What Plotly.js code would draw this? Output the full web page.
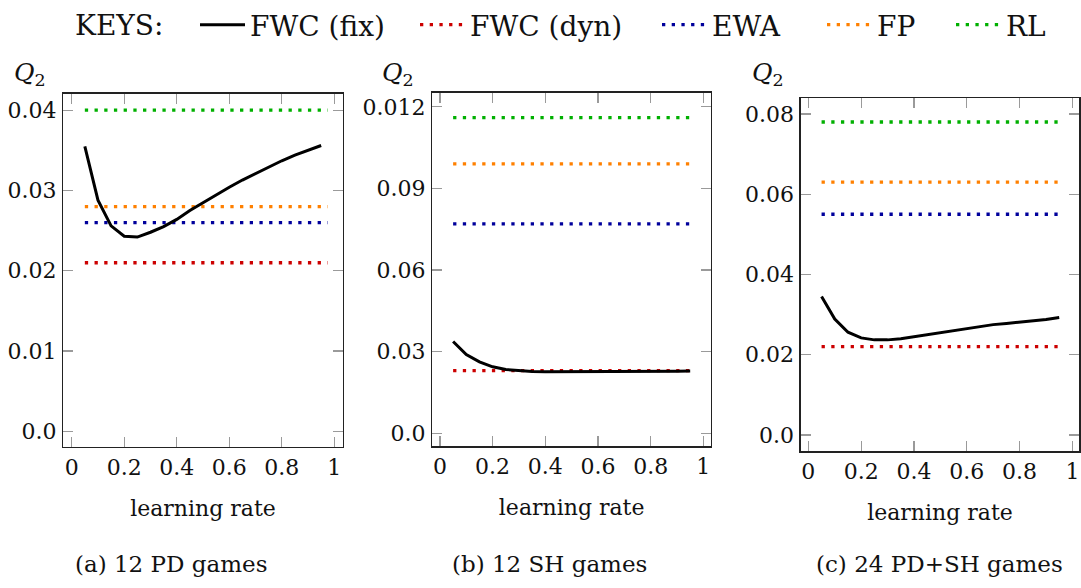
<!DOCTYPE html>
<html>
<head>
<meta charset="utf-8">
<script src="https://cdn.plot.ly/plotly-3.0.1.min.js"></script>
<style>html,body{margin:0;padding:0;background:#fff;}#chart{width:1081px;height:588px;}</style>
</head>
<body>
<div id="chart"></div>
<script>
// ---- data ----
const seriesNames = ["FWC (fix)", "FWC (dyn)", "EWA", "FP", "RL"];
const panelCaptions = ["(a) 12 PD games", "(b) 12 SH games", "(c) 24 PD+SH games"];
const learningRate = [0.05,0.10,0.15,0.20,0.25,0.30,0.35,0.40,0.45,0.50,0.55,0.60,0.65,0.70,0.75,0.80,0.85,0.90,0.95];

const fwcFixPD = [0.0355,0.0288,0.0256,0.0243,0.0242,0.0248,0.0255,0.0264,0.0275,0.0285,0.0294,0.0304,0.0313,0.0321,0.0330,0.0337,0.0344,0.0350,0.0356];
const fwcFixSH = [0.0337,0.0289,0.0262,0.0244,0.0234,0.0230,0.0227,0.0226,0.0226,0.0226,0.0226,0.0227,0.0227,0.0227,0.0228,0.0228,0.0228,0.0228,0.0229];
const fwcFixMix = [0.0345,0.0289,0.0256,0.0242,0.0237,0.0237,0.0240,0.0245,0.0250,0.0255,0.0260,0.0266,0.0270,0.0275,0.0278,0.0281,0.0285,0.0288,0.0293];

// constant baselines: [FWC (dyn), EWA, FP, RL]
const baselinePD = [0.021, 0.026, 0.028, 0.040];
const baselineSH = [0.023, 0.077, 0.099, 0.116];
const baselineMix = [0.022, 0.055, 0.063, 0.078];
const baselineXPD = [0.05, 0.975];
const baselineXSH = [0.05, 0.95];
const baselineXMix = [0.05, 0.95];

const xTickVals = [0, 0.2, 0.4, 0.6, 0.8, 1];
const xTickText = ["0", "0.2", "0.4", "0.6", "0.8", "1"];
const yTickValsPD = [0, 0.01, 0.02, 0.03, 0.04];
const yTickTextPD = ["0.0", "0.01", "0.02", "0.03", "0.04"];
const yTickValsSH = [0, 0.03, 0.06, 0.09, 0.12];
const yTickTextSH = ["0.0", "0.03", "0.06", "0.09", "0.012"];
const yTickValsMix = [0, 0.02, 0.04, 0.06, 0.08];
const yTickTextMix = ["0.0", "0.02", "0.04", "0.06", "0.08"];

// ---- styling ----
const W = 1081, H = 588;
const px = x => x / W;
const py = y => 1 - y / H;
const FONT = "DejaVu Serif";
const colors = ["#000000", "#cc0000", "#00009c", "#ff8000", "#00b000"];
const legendIds = ["legend", "legend2", "legend3", "legend4", "legend5"];

const panels = [
  {fix: fwcFixPD, base: baselinePD, bx: baselineXPD, xa: "x", ya: "y"},
  {fix: fwcFixSH, base: baselineSH, bx: baselineXSH, xa: "x2", ya: "y2"},
  {fix: fwcFixMix, base: baselineMix, bx: baselineXMix, xa: "x3", ya: "y3"}
];

const traces = [];
panels.forEach((p, pi) => {
  p.base.forEach((v, k) => {
    const si = k + 1;
    traces.push({
      type: "scatter", mode: "lines", name: seriesNames[si],
      x: p.bx, y: p.bx.map(() => v),
      xaxis: p.xa, yaxis: p.ya,
      line: {color: colors[si], width: 3.3, dash: "3.3px,6.4px"},
      showlegend: pi === 0, legend: legendIds[si], hoverinfo: "skip"
    });
  });
  traces.push({
    type: "scatter", mode: "lines", name: seriesNames[0],
    x: learningRate, y: p.fix,
    xaxis: p.xa, yaxis: p.ya,
    line: {color: colors[0], width: 3},
    showlegend: pi === 0, legend: legendIds[0], hoverinfo: "skip"
  });
});

function xAxis(dom, range, anchor) {
  return {
    domain: dom, range: range, anchor: anchor,
    tickvals: xTickVals, ticktext: xTickText,
    ticks: "inside", ticklen: 10, tickwidth: 1.3, tickcolor: "#9a9a9a",
    showline: true, linecolor: "#222", linewidth: 1.3, mirror: "ticks",
    showgrid: false, zeroline: false, ticklabelstandoff: 0,
    tickfont: {family: FONT, size: 22, color: "#111"},
    title: {text: "learning rate", font: {family: FONT, size: 22, color: "#111"}, standoff: 21}
  };
}
function yAxis(dom, range, anchor, vals, text) {
  return {
    domain: dom, range: range, anchor: anchor,
    tickvals: vals, ticktext: text,
    ticks: "inside", ticklen: 10, tickwidth: 1.3, tickcolor: "#9a9a9a",
    showline: true, linecolor: "#222", linewidth: 1.3, mirror: "ticks",
    showgrid: false, zeroline: false, ticklabelstandoff: 1,
    tickfont: {family: FONT, size: 22, color: "#111"}
  };
}

const legendStarts = [200, 420, 662, 827, 956];
const ann = (text, x, y, size, xanchor) => ({
  text: text, x: px(x), y: py(y), xref: "paper", yref: "paper",
  xanchor: xanchor || "center", yanchor: "middle", showarrow: false,
  font: {family: FONT, size: size, color: "#111"}
});
const layout = {
  width: W, height: H,
  margin: {l: 0, r: 0, t: 0, b: 0},
  paper_bgcolor: "#fff", plot_bgcolor: "#fff",
  font: {family: FONT},
  showlegend: true,
  xaxis: xAxis([px(63.3), px(342.7)], [-0.032, 1.032], "y"),
  yaxis: yAxis([py(445), py(86)], [-0.00196, 0.04205], "x", yTickValsPD, yTickTextPD),
  xaxis2: xAxis([px(432.3), px(711)], [-0.029, 1.029], "y2"),
  yaxis2: yAxis([py(444.3), py(85)], [-0.0049, 0.1252], "x2", yTickValsSH, yTickTextSH),
  xaxis3: xAxis([px(800.7), px(1079.3)], [-0.029, 1.026], "y3"),
  yaxis3: yAxis([py(449.3), py(90.7)], [-0.0041, 0.0839], "x3", yTickValsMix, yTickTextMix),
  annotations: [
    ann("KEYS:", 73, 17, 28, "left"),
    ann("<i>Q</i><sub>2</sub>", 30, 66, 25),
    ann("<i>Q</i><sub>2</sub>", 398, 66, 25),
    ann("<i>Q</i><sub>2</sub>", 768, 66, 25),
    ann(panelCaptions[0], 171, 564, 23),
    ann(panelCaptions[1], 549, 564, 23),
    ann(panelCaptions[2], 939, 564, 23)
  ]
};
legendIds.forEach((id, i) => {
  layout[id] = {
    x: px(legendStarts[i] - 5), y: py(16), xanchor: "left", yanchor: "middle",
    orientation: "h", bgcolor: "rgba(0,0,0,0)", borderwidth: 0,
    itemwidth: 45, font: {family: FONT, size: 28, color: "#111"}
  };
});

Plotly.newPlot("chart", traces, layout, {displayModeBar: false, staticPlot: true});
</script>
</body>
</html>
